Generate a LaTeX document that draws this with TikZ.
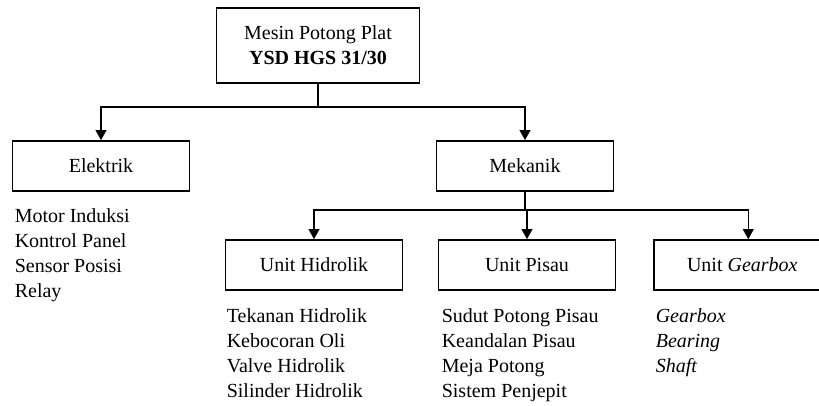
\documentclass[tikz,border=0pt]{standalone}
\usepackage{fontspec}
\setmainfont{Liberation Serif}
\usetikzlibrary{arrows.meta, positioning}

\begin{document}
\begin{tikzpicture}[x=0.75pt, y=-0.75pt, line width=1.2pt,
  every node/.style={font=\fontsize{15}{18.8}\selectfont},
  unit/.style={rectangle, draw, line width=1.2pt, minimum width=132.75pt, minimum height=37.5pt, inner sep=0pt},
  items/.style={anchor=north west, align=left, inner sep=0pt},
  link/.style={-{Triangle[length=7.5pt, width=8pt]}}
]
\useasboundingbox (0,0) rectangle (819,405);
% Kotak-kotak
\node[unit, minimum width=152pt, minimum height=56pt, align=center] (mesin) at (318,45.5) {Mesin Potong Plat\\ \textbf{YSD HGS 31/30}};
\node[unit] (elektrik) at (101,166) {Elektrik};
\node[unit] (mekanik) at (525,166) {Mekanik};
\node[unit] (hidrolik) at (314,265) {Unit Hidrolik};
\node[unit] (pisau) at (527,265) {Unit Pisau};
\node[unit, anchor=west] (gearbox) at (653,265) {Unit \textit{Gearbox}};
% Daftar komponen
\node[items] (listElektrik) at (14,208) {Motor Induksi\\ Kontrol Panel\\ Sensor Posisi\\ Relay};
\node[items] (listHidrolik) at (226,308) {Tekanan Hidrolik\\ Kebocoran Oli\\ Valve Hidrolik\\ Silinder Hidrolik};
\node[items] (listPisau) at (441,308) {Sudut Potong Pisau\\ Keandalan Pisau\\ Meja Potong\\ Sistem Penjepit};
\node[items, font=\fontsize{15}{18.8}\selectfont\itshape] (listGearbox) at (655,308) {Gearbox\\ Bearing\\ Shaft};
% Percabangan
\coordinate (cabang1) at (mesin.south |- 0,107);
\coordinate (cabang2) at (mekanik.south |- 0,210);
\draw (mesin.south) -- (cabang1);
\draw[link] (cabang1) -| (elektrik.north);
\draw[link] (cabang1) -| (mekanik.north);
\draw (mekanik.south) -- (cabang2);
\draw[link] (cabang2) -| (hidrolik.north);
\draw[link] (cabang2) -| (pisau.north);
\draw[link] (cabang2) -| ([xshift=4.5pt]gearbox.north);
\end{tikzpicture}
\end{document}
